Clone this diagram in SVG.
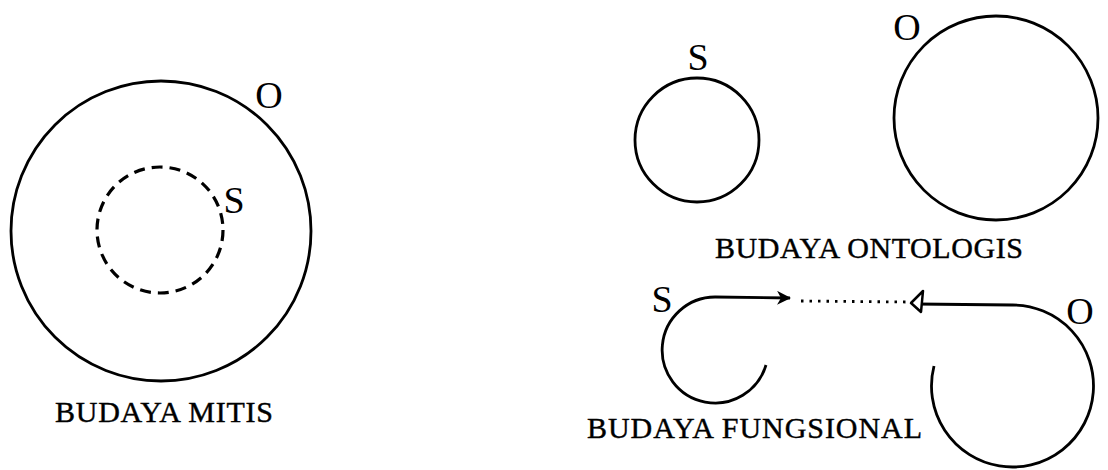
<svg xmlns="http://www.w3.org/2000/svg" width="1108" height="470" viewBox="0 0 1108 470">
<style>
.ln{fill:none;stroke:#000;stroke-width:2.8}
.dash{fill:none;stroke:#000;stroke-width:3.2;stroke-dasharray:11 7}
.lbl{font-family:"Liberation Serif","Times New Roman",serif;font-size:38px;fill:#000;text-anchor:middle}
.cap{font-family:"Liberation Serif","Times New Roman",serif;font-size:30px;fill:#000;stroke:#000;stroke-width:0.4}
</style>
<defs>
<marker id="headR" viewBox="0 0 14 14" refX="13" refY="7" markerWidth="14" markerHeight="14" markerUnits="userSpaceOnUse" orient="auto">
<path d="M0,0 L14,7 L0,14 L4,7 z" fill="#000"/>
</marker>
</defs>
<rect width="1108" height="470" fill="#fff"/>
<g id="mitis">
<circle class="ln" cx="161" cy="231" r="150"/>
<circle class="dash" cx="160" cy="230" r="63"/>
<text class="lbl" x="269" y="108">O</text>
<text class="lbl" x="234" y="213">S</text>
<text class="cap" x="55" y="422" textLength="218" lengthAdjust="spacing">BUDAYA MITIS</text>
</g>
<g id="ontologis">
<circle class="ln" cx="697" cy="140" r="62"/>
<circle class="ln" cx="996" cy="118" r="102"/>
<text class="lbl" x="698" y="70">S</text>
<text class="lbl" x="907" y="40">O</text>
<text class="cap" x="715" y="258" textLength="308" lengthAdjust="spacing">BUDAYA ONTOLOGIS</text>
</g>
<g id="fungsional">
<text class="lbl" x="662" y="312">S</text>
<text class="lbl" x="1080" y="324">O</text>
<text class="cap" x="587" y="438" textLength="335" lengthAdjust="spacing">BUDAYA FUNGSIONAL</text>
</g>
<g id="connectors">
<path class="ln" d="M766 365 A53 53 0 1 1 715 297 L790 298" marker-end="url(#headR)"/>
<path class="ln" d="M934 366 A81 81 0 1 0 1012 305 L916 304"/>
<path d="M911 303 L923 291 L921 312 z" fill="#fff" stroke="#000" stroke-width="2.5" stroke-linejoin="round"/>
<line x1="801" y1="301" x2="906" y2="302" stroke="#000" stroke-width="2.8" stroke-dasharray="2.5 6"/>
</g>
</svg>
